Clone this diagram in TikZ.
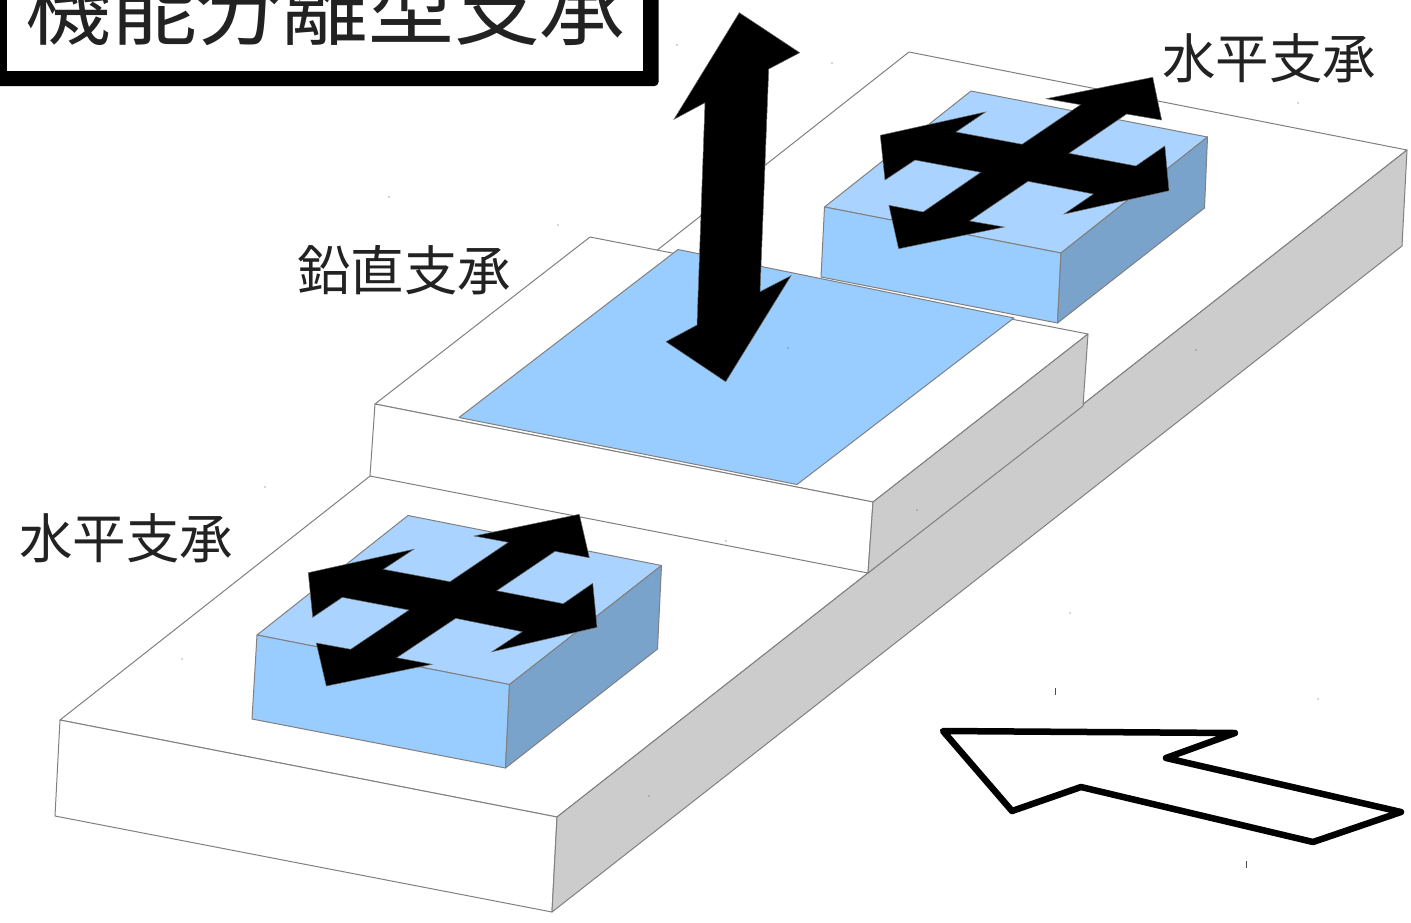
\documentclass[tikz,border=0pt]{standalone}
\usepackage{fontspec}
\newfontfamily\cjk{Noto Sans CJK JP}
\definecolor{edgegray}{HTML}{808080}
\definecolor{topblue}{HTML}{AAD4FF}
\definecolor{frontblue}{HTML}{99CCFF}
\definecolor{sideblue}{HTML}{7AA3CC}
\definecolor{sidegray}{HTML}{CCCCCC}
\definecolor{inkdark}{HTML}{222222}
\tikzset{
  facewhite/.style={fill=white,draw=edgegray,line width=1pt,line join=round},
  facegray/.style={fill=sidegray,draw=edgegray,line width=1pt,line join=round},
  facetop/.style={fill=topblue,draw=edgegray,line width=1pt,line join=round},
  facefront/.style={fill=frontblue,draw=edgegray,line width=1pt,line join=round},
  faceside/.style={fill=sideblue,draw=edgegray,line width=1pt,line join=round},
  solidarrow/.style={fill=black,draw=black!60,line width=.5pt,line join=miter},
  hollowarrow/.style={fill=white,draw=black,line width=6.5pt,line join=round},
  speck/.style={fill=black!70},
  label/.style={inner sep=0pt,anchor=base west,text=inkdark,font=\cjk\fontsize{53.5}{53.5}\selectfont},
  titletext/.style={inner sep=0pt,anchor=base west,text=inkdark,font=\cjk\fontsize{85.8}{85.8}\selectfont}
}
\begin{document}
\begin{tikzpicture}[x=1pt,y=-1pt]
\useasboundingbox (0,0) rectangle (1411,922);
\clip (0,0) rectangle (1411,922);
\fill[white] (0,0) rectangle (1411,922);
% platform
\draw[facewhite] (60,720) -- (909,52) -- (1407,150) -- (557,817) -- cycle;
\draw[facewhite] (60,720) -- (557,817) -- (552,912) -- (55,816) -- cycle;
\draw[facegray] (557,817) -- (1407,150) -- (1402,246) -- (552,912) -- cycle;
% upper horizontal bearing
\draw[facetop] (971,91) -- (1207.5,137) -- (1061,253) -- (824.5,207) -- cycle;
\draw[facefront] (824.5,207) -- (1061,253) -- (1057.5,323) -- (821,277) -- cycle;
\draw[faceside] (1061,253) -- (1207.5,137) -- (1204.5,208) -- (1057.5,323) -- cycle;
% middle block
\draw[facewhite] (375,404) -- (590,237) -- (1088,334) -- (873,502) -- cycle;
\draw[facewhite] (375,404) -- (873,502) -- (868,573) -- (370,476) -- cycle;
\draw[facegray] (873,502) -- (1088,334) -- (1083,406) -- (868,573) -- cycle;
% vertical bearing plate
\draw[facefront] (678,249.5) -- (1014,318) -- (797,484.5) -- (459,417.5) -- cycle;
% lower horizontal bearing
\draw[facetop] (408,515.5) -- (661.5,565.5) -- (509.5,684.5) -- (257,635) -- cycle;
\draw[facefront] (257,635) -- (509.5,684.5) -- (505.5,768) -- (252,719) -- cycle;
\draw[faceside] (509.5,684.5) -- (661.5,565.5) -- (657.5,649) -- (505.5,768) -- cycle;
% cross arrows
\draw[solidarrow] (1152.7,77.3) -- (1161.6,120) -- (1126.6,114) -- (1068.9,153.3) -- (1135.9,166) -- (1164.8,146) -- (1169,190.7) -- (1064.2,214) -- (1093.5,194) -- (1028,181.3) -- (969.5,221) -- (1004.2,227) -- (898.6,248.7) -- (888.9,205.3) -- (923.1,212) -- (980.8,172.3) -- (915,160) -- (885,180) -- (880.3,135.3) -- (985.5,112) -- (955.9,132) -- (1022.1,144.3) -- (1080.6,104.7) -- (1046.3,98.7) -- cycle;
\draw[solidarrow] (579.3,514.3) -- (589.3,557.7) -- (555,551.3) -- (496.7,590.7) -- (563.3,603.7) -- (592.7,583.3) -- (597,627.3) -- (492,651.7) -- (522.3,631.7) -- (455.7,618.3) -- (396.7,657.7) -- (432,664.3) -- (326.3,686) -- (316.3,643) -- (350.7,649.3) -- (409,610) -- (342.3,597.3) -- (312.7,617.3) -- (308.3,572.7) -- (413.7,549.3) -- (383.3,569.3) -- (450,581.7) -- (508.3,542.3) -- (474.3,536) -- cycle;
% vertical arrow
\draw[solidarrow] (739.3,12.7) -- (799.7,52.7) -- (768.7,69) -- (760,291.7) -- (791,275.7) -- (725.7,381.7) -- (666,341.7) -- (697,325) -- (705,102.7) -- (674,119.3) -- cycle;
% wind arrow
\draw[hollowarrow] (943,731) -- (1235,733) -- (1166,758) -- (1401,812) -- (1313,842) -- (1081,787) -- (1012,811) -- cycle;
% title frame
\fill[black,rounded corners=4pt] (-20,-20) rectangle (658.5,86);
\fill[white] (6.7,-20) rectangle (643,71);
\node[titletext] (title) at (25,38.5) {機能分離型支承};
% labels
\node[label] (labelA) at (1162,78) {水平支承};
\node[label] (labelB) at (297,290.5) {鉛直支承};
\node[label] (labelC) at (19,558) {水平支承};
% specks
\fill[speck] (1054.5,688) rectangle (1055.5,695);
\fill[speck] (1246,861) rectangle (1247,868);
\foreach \px/\py in {677/45,832/63,389/197,558/225,265/487,182/659,726/541,917/510,1196/350,1298/103,1070/613,1318/699,649/796,788/348}
  \fill[speck] (\px,\py) circle (.6);
\end{tikzpicture}
\end{document}
